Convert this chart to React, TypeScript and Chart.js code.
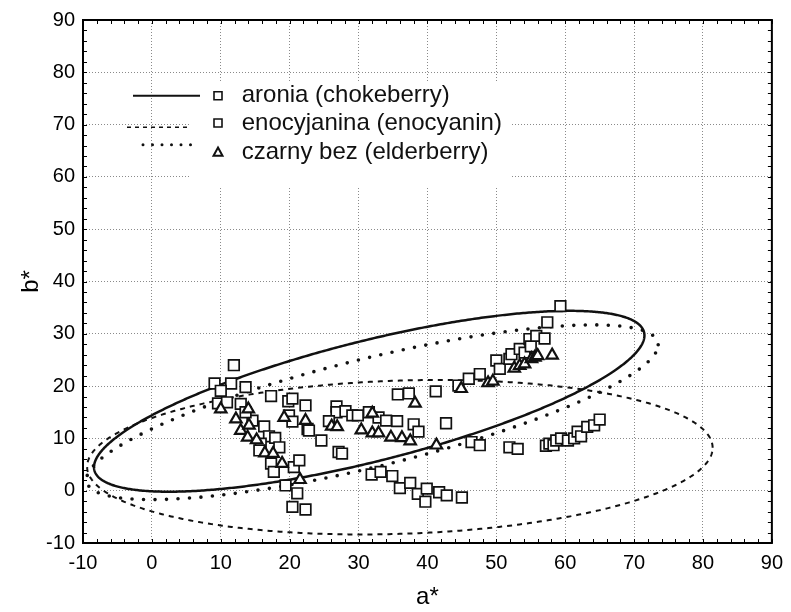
import React, { useEffect, useRef } from 'react';
import { Chart, registerables } from 'chart.js';

Chart.register(...registerables);

// ---- data (a*, b*) ----
const aroniaA = [9.1, 11.5, 11.9, 10.0, 13.6, 17.3, 19.8, 20.4, 22.3, 9.6, 10.9, 12.9, 26.8, 26.8, 28.1, 25.7, 29.1, 29.9, 31.5, 32.9, 34.0, 35.6, 38.0, 38.7, 35.7, 37.3, 41.2, 42.7, 44.5, 46.0, 47.6, 50.0, 50.5, 51.9, 52.2, 53.4, 54.1, 54.8, 55.0, 55.8, 57.0, 57.4, 59.3];
const aroniaB = [20.5, 20.5, 24.0, 19.1, 19.8, 18.1, 17.1, 17.6, 16.3, 16.7, 16.9, 16.6, 16.1, 15.0, 15.2, 13.3, 14.4, 14.4, 15.0, 14.0, 13.4, 13.3, 12.7, 11.3, 18.4, 18.6, 19.0, 12.9, 20.1, 21.4, 22.3, 24.9, 23.3, 25.2, 26.1, 27.1, 26.4, 29.0, 27.6, 29.6, 29.1, 32.2, 35.3];

const enocA = [14.6, 13.6, 16.3, 17.0, 17.9, 15.8, 18.5, 15.6, 17.3, 17.7, 20.6, 21.4, 19.4, 21.1, 20.4, 22.3, 19.9, 20.4, 22.6, 22.8, 24.6, 27.1, 27.6, 31.9, 33.2, 34.9, 36.0, 37.5, 38.6, 39.9, 39.7, 41.7, 42.8, 45.0, 46.4, 47.6, 51.9, 53.1, 57.2, 57.7, 58.3, 58.7, 59.4, 60.4, 61.3, 61.8, 62.3, 63.2, 64.2, 65.0];
const enocB = [13.4, 15.0, 12.3, 10.4, 10.1, 9.0, 8.3, 7.7, 5.2, 3.6, 4.5, 5.8, 1.0, -0.5, -3.1, -3.6, 14.4, 13.2, 11.8, 11.5, 9.6, 7.4, 7.1, 3.1, 3.6, 2.8, 0.5, 1.5, -0.6, 0.4, -2.1, -0.3, -0.9, -1.3, 9.3, 8.7, 8.3, 8.0, 8.6, 9.0, 8.7, 9.6, 10.0, 9.6, 10.0, 11.3, 10.4, 12.2, 12.5, 13.6];

const elderA = [10.0, 12.2, 14.0, 12.9, 14.1, 13.9, 15.2, 16.4, 17.6, 18.9, 19.2, 22.3, 21.5, 26.1, 26.9, 32.0, 30.4, 32.0, 32.9, 34.7, 36.3, 37.5, 38.2, 41.3, 44.9, 48.8, 49.5, 52.6, 53.4, 54.1, 55.1, 55.6, 56.0, 58.1];
const elderB = [15.6, 13.7, 15.6, 11.5, 12.5, 10.2, 9.7, 7.2, 7.1, 5.2, 14.0, 13.4, 2.1, 12.3, 12.2, 14.8, 11.6, 11.0, 11.0, 10.2, 10.1, 9.5, 16.7, 8.7, 19.5, 20.6, 20.9, 23.4, 23.9, 24.2, 25.2, 25.5, 25.8, 25.9];

// confidence ellipses: aronia (solid), enocyjanina (dashed), czarny bez (dotted)
const ellipseCenterA = [31.55, 36.0, 32.0];
const ellipseCenterB = [17.1, 6.4, 15.0];
const ellipseVarA = [1596, 2061, 1722];
const ellipseVarB = [299, 218, 279];
const ellipseCov = [503, 82, 535];

const legendLabels = ['aronia (chokeberry)', 'enocyjanina (enocyanin)', 'czarny bez (elderberry)'];

const axisMin = -10;
const axisMax = 90;
const axisStep = 10;
const minorStep = 2;

const FONT = '"Liberation Sans", Arial, sans-serif';
const INK = '#111';

function toPoints(xs: number[], ys: number[]) {
  return xs.map((x, i) => ({ x, y: ys[i] }));
}

const ellipseStyles = [
  { width: 2.5, dash: [] as number[], cap: 'butt' as CanvasLineCap },
  { width: 2, dash: [5, 5], cap: 'butt' as CanvasLineCap },
  { width: 3.6, dash: [0, 11.5], cap: 'round' as CanvasLineCap },
];

const framePlugin = {
  id: 'frameAndEllipses',
  beforeDatasetsDraw(chart: any) {
    const { ctx, chartArea, scales } = chart;
    const xs = scales.x;
    const ys = scales.y;
    ctx.save();
    ctx.beginPath();
    ctx.rect(chartArea.left, chartArea.top, chartArea.right - chartArea.left, chartArea.bottom - chartArea.top);
    ctx.clip();
    for (let i = 0; i < ellipseCenterA.length; i++) {
      const cx = ellipseCenterA[i];
      const cy = ellipseCenterB[i];
      const l11 = Math.sqrt(ellipseVarA[i]);
      const l21 = ellipseCov[i] / l11;
      const l22 = Math.sqrt(ellipseVarB[i] - l21 * l21);
      const st = ellipseStyles[i];
      ctx.strokeStyle = INK;
      ctx.lineWidth = st.width;
      ctx.setLineDash(st.dash);
      ctx.lineCap = st.cap;
      ctx.lineJoin = 'round';
      ctx.beginPath();
      for (let k = 0; k <= 720; k++) {
        const t = (k * Math.PI) / 360;
        const a = cx + l11 * Math.cos(t);
        const b = cy + l21 * Math.cos(t) + l22 * Math.sin(t);
        const px = xs.getPixelForValue(a);
        const py = ys.getPixelForValue(b);
        if (k === 0) ctx.moveTo(px, py);
        else ctx.lineTo(px, py);
      }
      ctx.stroke();
    }
    ctx.restore();

    // frame + minor ticks
    ctx.save();
    ctx.strokeStyle = '#000';
    ctx.setLineDash([]);
    ctx.lineWidth = 1;
    const L = chartArea.left, R = chartArea.right, T = chartArea.top, B = chartArea.bottom;
    ctx.beginPath();
    for (let v = axisMin; v <= axisMax + 1e-6; v += minorStep) {
      const px = Math.round(xs.getPixelForValue(v)) + 0.5;
      ctx.moveTo(px, B);
      ctx.lineTo(px, B - 4);
      ctx.moveTo(px, T);
      ctx.lineTo(px, T + 4);
      const py = Math.round(ys.getPixelForValue(v)) + 0.5;
      ctx.moveTo(L, py);
      ctx.lineTo(L + 4, py);
      ctx.moveTo(R, py);
      ctx.lineTo(R - 4, py);
    }
    ctx.stroke();
    ctx.lineWidth = 2;
    ctx.strokeRect(L, T, R - L, B - T);
    ctx.restore();
  },
};

const legendPlugin = {
  id: 'customLegend',
  afterDraw(chart: any) {
    const { ctx, chartArea } = chart;
    const L = chartArea.left;
    const T = chartArea.top;
    ctx.save();
    ctx.fillStyle = '#fff';
    ctx.fillRect(L + 106, T + 61, 321, 107);

    const textY = [T + 75.7, T + 103, T + 132];
    const lineY = [T + 75.7, T + 107.3, T + 124.7];
    const lineX0 = [L + 50, L + 44, L + 60];
    const lineX1 = [L + 117, L + 107, L + 117];
    const lineStyles = [
      { width: 2, dash: [] as number[], cap: 'butt' as CanvasLineCap },
      { width: 1.5, dash: [4, 4], cap: 'butt' as CanvasLineCap },
      { width: 3, dash: [0, 9.5], cap: 'round' as CanvasLineCap },
    ];
    const markerX = L + 135;
    const textX = L + 158.7;

    for (let i = 0; i < 3; i++) {
      const st = lineStyles[i];
      ctx.strokeStyle = INK;
      ctx.lineWidth = st.width;
      ctx.setLineDash(st.dash);
      ctx.lineCap = st.cap;
      ctx.beginPath();
      ctx.moveTo(lineX0[i], lineY[i]);
      ctx.lineTo(lineX1[i], lineY[i]);
      ctx.stroke();

      ctx.setLineDash([]);
      ctx.lineCap = 'butt';
      ctx.lineWidth = 1.6;
      ctx.fillStyle = '#fff';
      if (i < 2) {
        ctx.beginPath();
        ctx.rect(markerX - 4, textY[i] - 4, 8, 8);
        ctx.fill();
        ctx.stroke();
      } else {
        ctx.lineWidth = 2;
        ctx.beginPath();
        ctx.moveTo(markerX, textY[i] - 4.5);
        ctx.lineTo(markerX + 4.5, textY[i] + 3.8);
        ctx.lineTo(markerX - 4.5, textY[i] + 3.8);
        ctx.closePath();
        ctx.fill();
        ctx.stroke();
      }

      ctx.fillStyle = INK;
      ctx.font = `24px ${FONT}`;
      ctx.textBaseline = 'middle';
      ctx.textAlign = 'left';
      ctx.fillText(legendLabels[i], textX, textY[i]);
    }
    ctx.restore();
  },
};

export default function App() {
  const canvasRef = useRef<HTMLCanvasElement | null>(null);

  useEffect(() => {
    const canvas = canvasRef.current;
    if (!canvas) return;
    const squareStyle = {
      pointStyle: 'rect',
      pointRadius: 7.5,
      pointHoverRadius: 7.5,
      pointBorderWidth: 1.7,
      pointBorderColor: INK,
      pointBackgroundColor: '#fff',
      showLine: false,
    };
    const chart = new Chart(canvas, {
      type: 'scatter',
      data: {
        datasets: [
          { label: legendLabels[0], data: toPoints(aroniaA, aroniaB), order: 2, ...squareStyle },
          { label: legendLabels[1], data: toPoints(enocA, enocB), order: 1, ...squareStyle },
          {
            label: legendLabels[2],
            data: toPoints(elderA, elderB),
            order: 0,
            pointStyle: 'triangle',
            pointRadius: 6.6,
            pointHoverRadius: 6.6,
            pointBorderWidth: 2.2,
            pointBorderColor: INK,
            pointBackgroundColor: '#fff',
            showLine: false,
          },
        ],
      } as any,
      options: {
        responsive: false,
        animation: false,
        devicePixelRatio: 1,
        layout: { padding: { left: 0, top: 17, right: 16, bottom: 0 } },
        plugins: {
          legend: { display: false },
          tooltip: { enabled: false },
        },
        scales: {
          x: {
            type: 'linear',
            min: axisMin,
            max: axisMax,
            afterFit: (scale: any) => {
              scale.height = 69;
            },
            ticks: {
              stepSize: axisStep,
              color: '#000',
              font: { family: FONT, size: 20 },
              padding: 8,
              maxRotation: 0,
            },
            grid: { color: '#8a8a8a', lineWidth: 1, drawTicks: false },
            border: { display: false, dash: [1, 2] },
            title: {
              display: true,
              text: 'a*',
              color: '#000',
              font: { family: FONT, size: 24 },
              padding: { top: 0, bottom: 0 },
            },
          },
          y: {
            type: 'linear',
            min: axisMin,
            max: axisMax,
            afterFit: (scale: any) => {
              scale.width = 83;
            },
            ticks: {
              stepSize: axisStep,
              color: '#000',
              font: { family: FONT, size: 20 },
              padding: 8,
            },
            grid: { color: '#8a8a8a', lineWidth: 1, drawTicks: false },
            border: { display: false, dash: [1, 2] },
            title: {
              display: true,
              text: 'b*',
              color: '#000',
              font: { family: FONT, size: 24 },
              padding: { top: 17, bottom: 0 },
            },
          },
        },
      } as any,
      plugins: [framePlugin, legendPlugin],
    });
    return () => chart.destroy();
  }, []);

  return (
    <div style={{ position: 'absolute', left: 0, top: 0, width: 791, height: 612, background: '#fff' }}>
      <canvas ref={canvasRef} width={791} height={612} style={{ display: 'block' }} />
    </div>
  );
}
